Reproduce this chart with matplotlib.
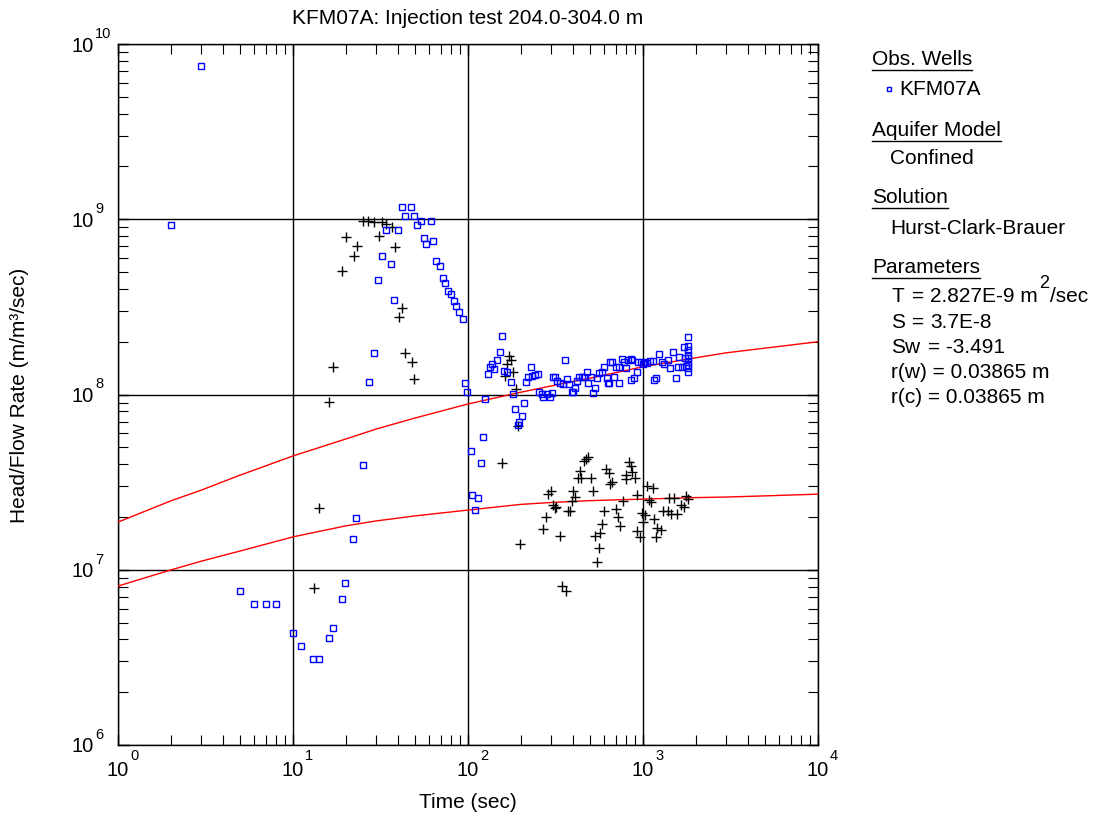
import matplotlib
matplotlib.use('Agg')
import matplotlib.pyplot as plt
from matplotlib.lines import Line2D
from matplotlib.ticker import NullFormatter
from matplotlib.transforms import offset_copy

plt.rcParams['font.family'] = ['Liberation Sans', 'DejaVu Sans']

# observed head/flow rate (blue squares)
obs_t = [2.0, 3.0, 5.0, 6.0, 7.0, 8.0, 10.0, 11.1, 13.0, 14.1, 16.1, 16.9, 19.0, 19.8,
         22.0, 22.8, 25.1, 27.2, 29.0, 30.6, 32.3, 34.0, 36.3, 37.8, 39.8, 42.0, 43.6,
         47.2, 49.1, 51.1, 53.9, 56.1, 57.5, 61.4, 63.1, 65.6, 69.2, 71.9, 73.9, 76.9,
         79.9, 83.2, 85.3, 88.8, 93.6, 96.1, 98.7, 104, 105, 110, 114, 119, 122, 125,
         130, 134, 137, 141, 146, 152, 156, 161, 167, 176, 181, 186, 193, 196, 204,
         209, 214, 220, 229, 232, 241, 251, 255, 265, 268, 283, 294, 302, 306, 314,
         323, 335, 349, 358, 368, 378, 393, 398, 408, 420, 431, 448, 460, 479, 485,
         504, 518, 532, 546, 560, 583, 598, 623, 631, 648, 665, 683, 639, 729, 701,
         729, 759, 779, 800, 821, 865, 854, 925, 889, 854, 936, 975, 1000, 1026, 1054,
         1096, 1140, 1156, 1186, 1233, 1284, 1318, 1390, 1426, 1484, 1545, 1585, 1606,
         1671, 1738, 1715, 1762, 1807, 1807, 1807, 1807, 1807, 1807, 1807, 1807, 1807]
obs_v = [9.3e8, 7.5e9, 7.6e6, 6.4e6, 6.4e6, 6.4e6, 4.35e6, 3.67e6, 3.1e6, 3.1e6, 4.08e6,
         4.66e6, 6.8e6, 8.4e6, 1.5e7, 1.97e7, 3.96e7, 1.18e8, 1.73e8, 4.5e8, 6.17e8,
         8.68e8, 5.56e8, 3.46e8, 8.68e8, 1.17e9, 1.04e9, 1.17e9, 1.04e9, 9.27e8, 9.77e8,
         7.81e8, 7.22e8, 9.77e8, 7.52e8, 5.78e8, 5.41e8, 4.62e8, 4.33e8, 3.9e8, 3.74e8,
         3.42e8, 3.2e8, 2.95e8, 2.7e8, 1.16e8, 1.03e8, 4.76e7, 2.67e7, 2.19e7, 2.57e7,
         4.06e7, 5.73e7, 9.42e7, 1.31e8, 1.44e8, 1.49e8, 1.4e8, 1.57e8, 1.75e8, 2.16e8,
         1.36e8, 1.34e8, 1.18e8, 1.01e8, 8.27e7, 6.7e7, 6.96e7, 7.54e7,
         8.95e7, 1.18e8, 1.26e8, 1.44e8, 1.28e8, 1.29e8, 1.31e8, 1.03e8, 1.01e8, 9.68e7,
         1.01e8, 9.68e7, 1.02e8, 1.26e8, 1.26e8, 1.19e8, 1.16e8, 1.15e8, 1.57e8, 1.22e8,
         1.15e8, 1.03e8, 1.03e8, 1.09e8, 1.19e8, 1.26e8, 1.26e8, 1.26e8, 1.34e8, 1.16e8,
         1.26e8, 1.02e8, 1.09e8, 1.24e8, 1.33e8, 1.34e8, 1.44e8, 1.24e8, 1.16e8, 1.53e8,
         1.53e8, 1.26e8, 1.16e8, 1.16e8, 1.44e8, 1.44e8, 1.60e8, 1.53e8, 1.42e8, 1.57e8,
         1.57e8, 1.60e8, 1.34e8, 1.24e8, 1.21e8, 1.53e8, 1.53e8, 1.49e8, 1.53e8, 1.51e8,
         1.55e8, 1.55e8, 1.21e8, 1.24e8, 1.70e8, 1.53e8, 1.49e8, 1.57e8, 1.42e8, 1.75e8,
         1.24e8, 1.44e8, 1.64e8, 1.44e8, 1.62e8, 1.87e8, 1.45e8, 2.13e8, 1.89e8, 1.79e8,
         1.68e8, 1.62e8, 1.53e8, 1.47e8, 1.42e8, 1.34e8]

# derivative (black crosses)
der_t = [13.2, 14.1, 16.1, 16.9, 19.1, 20.1, 22.3, 23.2, 25.1, 26.8, 29.0, 31.0, 32.3,
         34.0, 36.8, 38.3, 40.3, 42.0, 43.7, 47.9, 49.1, 156, 163, 167, 171, 176, 181,
         188, 193, 198, 268, 279, 286, 298, 306, 313, 318, 335, 344, 363, 373, 383, 393,
         398, 408, 425, 436, 442, 460, 472, 485, 504, 518, 532, 546, 560, 568, 583, 598,
         615, 639, 648, 665, 701, 720, 739, 769, 800, 800, 832, 854, 865, 900, 925, 925,
         961, 987, 1000, 1026, 1054, 1082, 1111, 1140, 1156, 1186, 1202, 1267, 1300,
         1390, 1409, 1445, 1504, 1564, 1648, 1715, 1762, 1807]
der_v = [7.87e6, 2.25e7, 9.07e7, 1.44e8, 5.07e8, 7.92e8, 6.17e8, 7.04e8, 9.77e8, 9.77e8,
         9.64e8, 8.0e8, 9.64e8, 9.4e8, 9.04e8, 6.95e8, 2.77e8, 3.12e8, 1.73e8, 1.53e8,
         1.22e8, 4.06e7, 1.27e8, 1.49e8, 1.66e8, 1.57e8, 1.34e8, 1.07e8, 6.6e7, 1.40e7,
         1.71e7, 2.0e7, 2.70e7, 2.81e7, 2.34e7, 2.25e7, 2.28e7, 1.56e7, 8.07e6, 7.57e6,
         2.16e7, 2.16e7, 2.47e7, 2.81e7, 2.60e7, 3.34e7, 3.66e7, 3.34e7, 4.18e7, 4.29e7,
         4.40e7, 3.34e7, 2.81e7, 1.56e7, 1.11e7, 1.33e7, 1.62e7, 1.82e7, 2.16e7, 3.76e7,
         3.57e7, 3.08e7, 3.17e7, 2.22e7, 2.0e7, 1.78e7, 2.47e7, 3.47e7, 3.30e7, 4.12e7,
         3.91e7, 3.61e7, 3.34e7, 2.67e7, 1.66e7, 1.54e7, 2.11e7, 1.87e7, 2.05e7, 3.01e7,
         2.50e7, 2.44e7, 2.93e7, 1.95e7, 1.54e7, 1.73e7, 1.69e7, 2.16e7, 2.16e7, 2.57e7,
         2.08e7, 2.57e7, 2.08e7, 2.34e7, 2.28e7, 2.64e7, 2.53e7]

# fitted curves (red)
fit_t = [1, 2, 3, 5, 10, 20, 30, 50, 100, 200, 300, 500, 1000, 2000, 3000, 5000, 10000]
fit_head = [1.87e7, 2.47e7, 2.85e7, 3.47e7, 4.46e7, 5.57e7, 6.36e7, 7.35e7, 8.83e7,
            1.03e8, 1.12e8, 1.24e8, 1.44e8, 1.62e8, 1.73e8, 1.84e8, 2.0e8]
fit_der = [8.07e6, 9.97e6, 1.12e7, 1.28e7, 1.54e7, 1.78e7, 1.90e7, 2.03e7, 2.19e7,
           2.36e7, 2.42e7, 2.48e7, 2.53e7, 2.58e7, 2.60e7, 2.64e7, 2.70e7]

decades_x = [0, 1, 2, 3, 4]
decades_y = [6, 7, 8, 9, 10]

W, H = 1115, 819
fig = plt.figure(figsize=(W / 100, H / 100), dpi=100)
ax = fig.add_axes([118 / W, 1 - 745 / H, 700 / W, 701 / H])
ax.set_xscale('log')
ax.set_yscale('log')
ax.set_xlim(1, 1e4)
ax.set_ylim(1e6, 1e10)
ax.grid(True, which='major', color='black', lw=1)
ax.set_axisbelow(True)

ax.plot(fit_t, fit_head, color='red', lw=1, zorder=3)
ax.plot(fit_t, fit_der, color='red', lw=1, zorder=3)
ax.plot(der_t, der_v, '+', ms=6.5, color='black', mew=1, zorder=4)
ax.plot(obs_t, obs_v, 's', ms=5, mfc='none', mec='blue', mew=1, zorder=5)

ax.tick_params(which='both', direction='in', top=True, right=True, color='black',
               labelbottom=False, labelleft=False)
ax.tick_params(which='major', length=8, width=1)
ax.tick_params(which='minor', length=7, width=0.8)
ax.xaxis.set_minor_formatter(NullFormatter())
ax.yaxis.set_minor_formatter(NullFormatter())
for s in ax.spines.values():
    s.set_linewidth(1)

# power-of-ten tick labels
xt = ax.get_xaxis_transform()
for k in decades_x:
    ax.text(10 ** k, 0, '10', transform=offset_copy(xt, fig, 0, -25, units='dots'),
            ha='center', va='center', fontsize=14.5)
    ax.text(10 ** k, 0, str(k), transform=offset_copy(xt, fig, 12, -11, units='dots'),
            ha='left', va='center', fontsize=10.5)
yt = ax.get_yaxis_transform()
for k in decades_y:
    ax.text(0, 10 ** k, '10', transform=offset_copy(yt, fig, -24, -2, units='dots'),
            ha='right', va='center', fontsize=14.5)
    ax.text(0, 10 ** k, str(k), transform=offset_copy(yt, fig, -23, 10, units='dots'),
            ha='left', va='center', fontsize=10.5)

fig.text(468 / W, 1 - 18 / H, 'KFM07A: Injection test 204.0-304.0 m', ha='center', va='center', fontsize=15)
fig.text(468 / W, 1 - 803 / H, 'Time (sec)', ha='center', va='center', fontsize=15)
fig.text(20 / W, 1 - 395 / H, 'Head/Flow Rate (m/m³/sec)', ha='center', va='center',
         rotation=90, fontsize=15)

# side panel
fig.canvas.draw()
renderer = fig.canvas.get_renderer()


def item(x, ybase, s, size=15):
    return fig.text(x / W, 1 - ybase / H, s, fontsize=size, va='baseline')


def heading(ybase, s):
    t = item(872, ybase, s)
    bb = t.get_window_extent(renderer=renderer)
    yl = 1 - (ybase + 5) / H
    fig.add_artist(Line2D([bb.x0 / W, bb.x1 / W], [yl, yl], color='black', lw=1))


heading(65, 'Obs. Wells')
fig.add_artist(Line2D([889 / W], [1 - 89 / H], marker='s', ms=3.5, mfc='none', mec='blue', mew=1))
item(899, 95, 'KFM07A')
heading(136, 'Aquifer Model')
item(890, 164, 'Confined')
heading(203, 'Solution')
item(890, 234, 'Hurst-Clark-Brauer')
heading(273, 'Parameters')
item(891, 302, 'T')
item(912, 302, '=')
t1 = item(930, 302, '2.827E-9 m')
x1 = t1.get_window_extent(renderer=renderer).x1
t2 = item(x1 + 1, 288, '2', size=13)
x2 = t2.get_window_extent(renderer=renderer).x1
item(x2 + 1, 302, '/sec')
item(891, 328, 'S')
item(912, 328, '=')
item(930, 328, '3.7E-8')
item(891, 353, 'Sw')
item(928, 353, '= -3.491')
item(891, 378, 'r(w) = 0.03865 m')
item(891, 403, 'r(c) = 0.03865 m')

fig.savefig('out.png', dpi=100)
